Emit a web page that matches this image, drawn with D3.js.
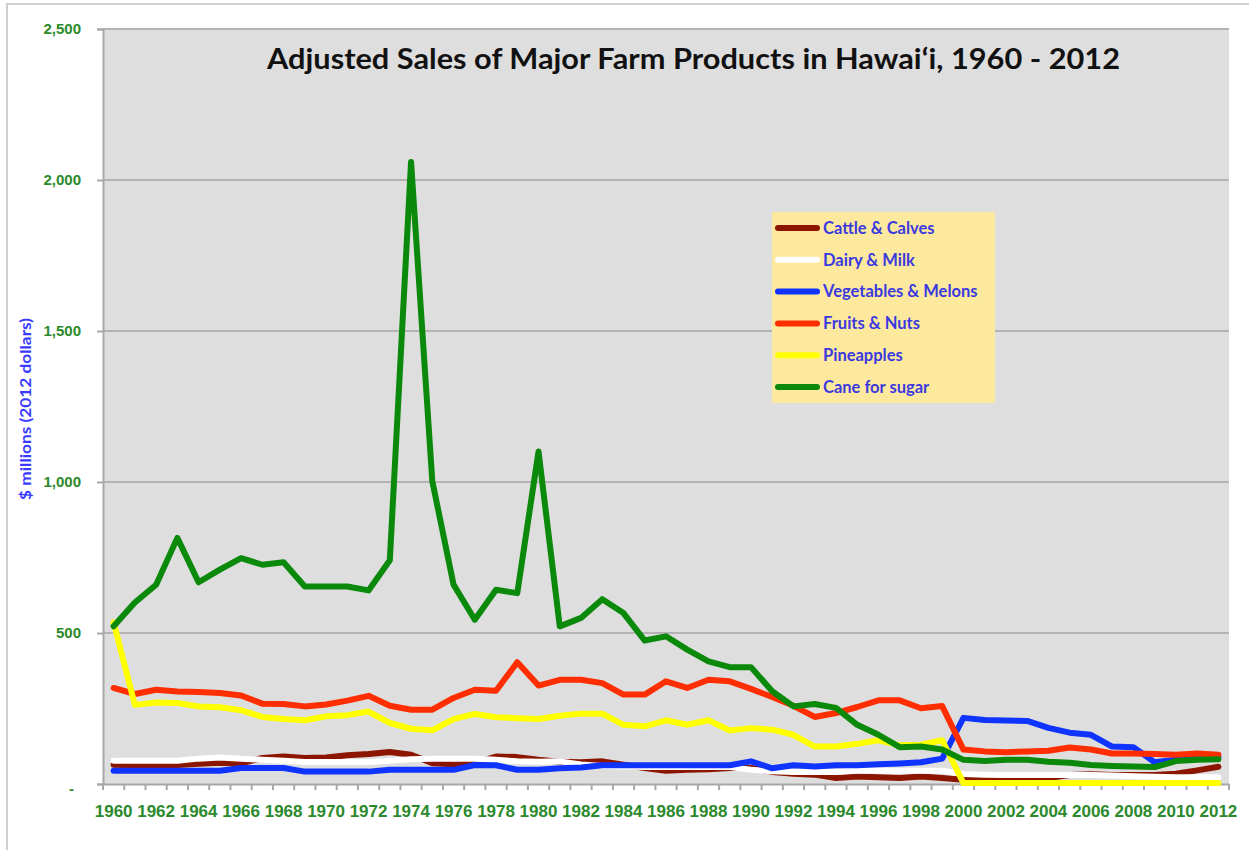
<!DOCTYPE html>
<html>
<head>
<meta charset='utf-8'>
<style>
body {
  margin: 0;
  background: #fff;
  font-family: Lato, 'Open Sans', sans-serif;
  font-weight: bold;
}
.grid line {
  stroke: #b3b3b3;
  stroke-width: 2px;
}
.series path {
  fill: none;
  stroke-width: 6px;
  stroke-linejoin: round;
  stroke-linecap: round;
}
.yaxis text, .xaxis text {
  fill: #2b8a2b;
  font-weight: bold;
}
</style>
</head>
<body>
<svg width="1249" height="850"></svg>
<script src="https://d3js.org/d3.v7.min.js"></script>
<script>

// years on the category axis
var years = d3.range(1960, 2013);

// series values, $ millions (2012 dollars)
var cattle = [64,62,62,63,67,70,68,86,91,86,
              88,95,99,106,97,69,65,70,91,89,
              80,74,72,75,64,53,44,47,49,53,
              53,40,34,31,20,25,22,20,25,20,
              14,14,14,16,20,30,32,30,30,30,
              34,45,57];
var dairy = [77,77,77,77,84,88,84,80,77,73,
             73,73,73,77,82,84,84,84,80,75,
             74,75,65,60,58,56,56,56,56,56,
             47,42,40,40,40,44,44,44,44,44,
             33,31,30,30,30,30,30,28,26,24,
             22,22,22];
var vegetables = [44,44,44,44,44,44,53,53,53,41,
                  41,41,41,47,47,47,47,63,62,47,
                  47,52,55,62,62,62,62,62,62,62,
                  75,52,62,58,62,62,65,68,72,84,
                  219,212,210,209,186,170,163,124,122,72,
                  80,86,90];
var fruits = [318,298,312,306,305,301,293,266,265,257,
              263,276,292,259,246,246,285,312,309,403,
              326,345,345,334,296,296,340,318,345,340,
              315,288,259,222,235,255,277,277,251,258,
              114,108,105,108,110,121,114,101,101,99,
              97,101,97];
var pineapples = [535,262,270,268,257,254,244,222,215,211,
                  224,228,240,202,183,178,215,232,221,218,
                  215,226,233,233,196,191,211,196,211,177,
                  185,180,163,124,124,133,145,128,130,145,
                  3,3,3,3,3,3,3,3,3,3,
                  3,3,3];
var cane = [522,601,660,815,668,710,748,726,734,654,
            654,654,641,741,2060,1003,660,544,643,632,
            1101,522,550,612,566,475,489,445,406,387,
            387,307,257,265,252,196,163,122,124,114,
            80,76,80,80,74,70,63,60,58,56,
            76,80,82];

var seriesNames = ['Cattle & Calves', 'Dairy & Milk', 'Vegetables & Melons',
                   'Fruits & Nuts', 'Pineapples', 'Cane for sugar'];
var seriesValues = [cattle, dairy, vegetables, fruits, pineapples, cane];
var seriesColors = ['#8c1500', '#ffffff', '#1034ff', '#ff2e00', '#ffff00', '#0a890a'];

var yTicks = [0, 500, 1000, 1500, 2000, 2500];

var svg = d3.select('svg'),
    plotLeft = 103, plotRight = 1229, plotTop = 29, plotBottom = 784;

var x = d3.scaleBand().domain(years).range([plotLeft, plotRight]),
    y = d3.scaleLinear().domain([0, 2500]).range([plotBottom, plotTop]);

// outer chart frame (right/bottom edge fall outside the picture)
svg.append('rect')
    .attr('x', 7).attr('y', 4)
    .attr('width', 1400).attr('height', 1000)
    .attr('fill', '#fff')
    .attr('stroke', '#d0d0d0')
    .attr('stroke-width', 2);

// plot area
svg.append('rect')
    .attr('x', plotLeft).attr('y', plotTop)
    .attr('width', plotRight - plotLeft).attr('height', plotBottom - plotTop)
    .attr('fill', '#dedede');

svg.append('g')
    .attr('class', 'grid')
  .selectAll('line')
  .data(yTicks.filter(function(d) { return d > 0; }))
  .enter().append('line')
    .attr('x1', plotLeft).attr('x2', plotRight)
    .attr('y1', function(d) { return y(d); })
    .attr('y2', function(d) { return y(d); });

// y axis
var yAxis = svg.append('g')
    .attr('class', 'yaxis')
    .attr('transform', 'translate(' + plotLeft + ',0)')
    .call(d3.axisLeft(y)
      .tickValues(yTicks)
      .tickSize(6)
      .tickPadding(16)
      .tickFormat(function(d) { return d === 0 ? '-' : d3.format(',')(d); }));
yAxis.select('.domain').attr('stroke', '#a8a8a8').attr('stroke-width', 2);
yAxis.selectAll('.tick line').attr('stroke', '#a8a8a8').attr('stroke-width', 2);
yAxis.selectAll('text').style('font-size', '15px');
yAxis.selectAll('.tick text').filter(function(d) { return d === 0; })
    .attr('x', -29).attr('dy', '0.6em');

// x axis: labels every other year, tick marks between categories
var xAxis = svg.append('g')
    .attr('class', 'xaxis')
    .attr('transform', 'translate(0,' + plotBottom + ')')
    .call(d3.axisBottom(x)
      .tickValues(years.filter(function(d) { return d % 2 === 0; }))
      .tickSize(0)
      .tickPadding(21));
xAxis.select('.domain').attr('stroke', '#a8a8a8').attr('stroke-width', 2);
xAxis.selectAll('text').style('font-size', '17px');

xAxis.selectAll('.sep')
  .data(years.concat([2013]))
  .enter().append('line')
    .attr('class', 'sep')
    .attr('x1', function(d) { return d === 2013 ? plotRight : x(d); })
    .attr('x2', function(d) { return d === 2013 ? plotRight : x(d); })
    .attr('y1', 0).attr('y2', 6)
    .attr('stroke', '#a8a8a8')
    .attr('stroke-width', 2);

// y axis title
svg.append('text')
    .attr('transform', 'translate(31,318) rotate(-90)')
    .attr('text-anchor', 'end')
    .attr('textLength', 182)
    .attr('lengthAdjust', 'spacingAndGlyphs')
    .attr('fill', '#3a3aff')
    .style('font-size', '15px')
    .text('$ millions (2012 dollars)');

// title
svg.append('text')
    .attr('x', 267).attr('y', 69)
    .attr('textLength', 853)
    .attr('lengthAdjust', 'spacingAndGlyphs')
    .attr('fill', '#111')
    .style('font-size', '28px')
    .text('Adjusted Sales of Major Farm Products in Hawai\u2018i, 1960 - 2012');

// series lines
var line = d3.line()
    .x(function(d, i) { return x(years[i]) + x.bandwidth() / 2; })
    .y(function(d) { return y(d); });

svg.append('g')
    .attr('class', 'series')
  .selectAll('path')
  .data(seriesValues)
  .enter().append('path')
    .attr('stroke', function(d, i) { return seriesColors[i]; })
    .attr('d', line);

// legend
var legend = svg.append('g').attr('transform', 'translate(772,212)');
legend.append('rect')
    .attr('width', 223).attr('height', 191)
    .attr('fill', '#fde99d');
var item = legend.selectAll('.item')
  .data(seriesNames)
  .enter().append('g')
    .attr('class', 'item')
    .attr('transform', function(d, i) { return 'translate(0,' + (16 + i * 31.8) + ')'; });
item.append('line')
    .attr('x1', 6).attr('x2', 45)
    .attr('stroke', function(d, i) { return seriesColors[i]; })
    .attr('stroke-width', 6)
    .attr('stroke-linecap', 'round');
item.append('text')
    .attr('x', 51).attr('dy', '0.35em')
    .attr('fill', '#3a3ae0')
    .style('font-size', '16.5px')
    .text(function(d) { return d; });

</script>
</body>
</html>
